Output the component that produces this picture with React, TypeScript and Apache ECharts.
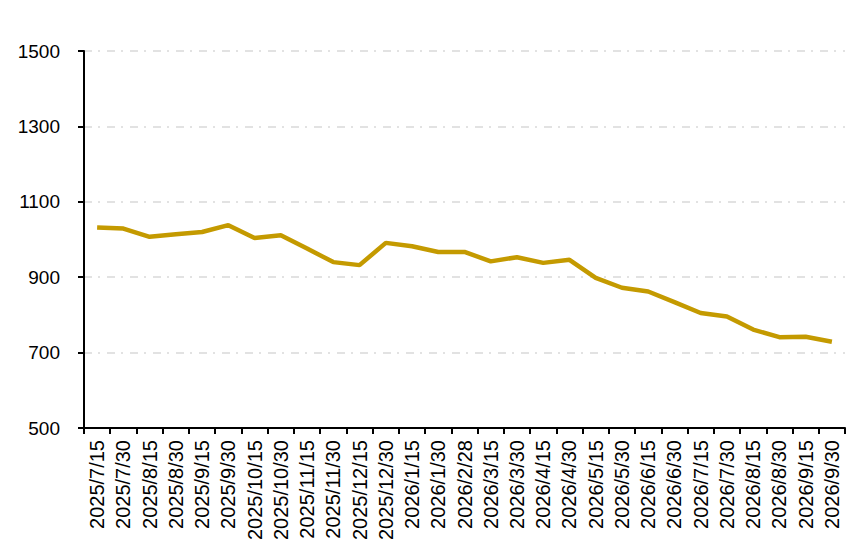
import React, { useEffect, useRef } from "react";
import * as echarts from "echarts";

const categories = [
  "2025/7/15", "2025/7/30", "2025/8/15", "2025/8/30", "2025/9/15", "2025/9/30",
  "2025/10/15", "2025/10/30", "2025/11/15", "2025/11/30", "2025/12/15", "2025/12/30",
  "2026/1/15", "2026/1/30", "2026/2/28", "2026/3/15", "2026/3/30", "2026/4/15",
  "2026/4/30", "2026/5/15", "2026/5/30", "2026/6/15", "2026/6/30", "2026/7/15",
  "2026/7/30", "2026/8/15", "2026/8/30", "2026/9/15", "2026/9/30",
];

const values = [
  1032, 1029, 1007, 1014, 1020, 1038, 1004, 1011, 976, 940, 932, 991,
  982, 967, 967, 942, 953, 938, 946, 898, 872, 862, 834, 805,
  796, 761, 741, 742, 729,
];

const yMin = 500;
const yMax = 1500;
const yInterval = 200;

export default function App() {
  const ref = useRef<HTMLDivElement>(null);
  useEffect(() => {
    if (!ref.current) return;
    const chart = echarts.init(ref.current, null, { renderer: "svg" });
    chart.setOption({
      animation: false,
      backgroundColor: "#ffffff",
      grid: { left: 84, right: 20, top: 51, bottom: 121, containLabel: false },
      xAxis: {
        type: "category",
        data: categories,
        boundaryGap: true,
        axisLine: { lineStyle: { color: "#000000", width: 2 } },
        axisTick: { show: true, length: 6, lineStyle: { color: "#000000", width: 2 }, interval: 0 },
        axisLabel: {
          interval: 0,
          rotate: 90,
          color: "#000000",
          fontFamily: "Liberation Sans",
          fontSize: 20,
          margin: 12,
        },
        splitLine: { show: false },
      },
      yAxis: {
        type: "value",
        min: yMin,
        max: yMax,
        interval: yInterval,
        axisLine: { show: true, lineStyle: { color: "#000000", width: 2 } },
        axisTick: { show: true, length: 6, lineStyle: { color: "#000000", width: 2 } },
        axisLabel: {
          color: "#000000",
          fontFamily: "Liberation Sans",
          fontSize: 19,
          margin: 24,
          formatter: (v: number) => String(v),
        },
        splitLine: {
          show: true,
          lineStyle: { color: "#d9d9d9", width: 1.5, type: [8, 6, 2, 7] },
        },
      },
      series: [
        {
          type: "line",
          data: values,
          symbol: "none",
          lineStyle: { color: "#C49A00", width: 4.5 },
        },
      ],
    });
    return () => chart.dispose();
  }, []);
  return (
    <div
      ref={ref}
      style={{ position: "fixed", left: 0, top: 0, width: 865, height: 549 }}
    />
  );
}
